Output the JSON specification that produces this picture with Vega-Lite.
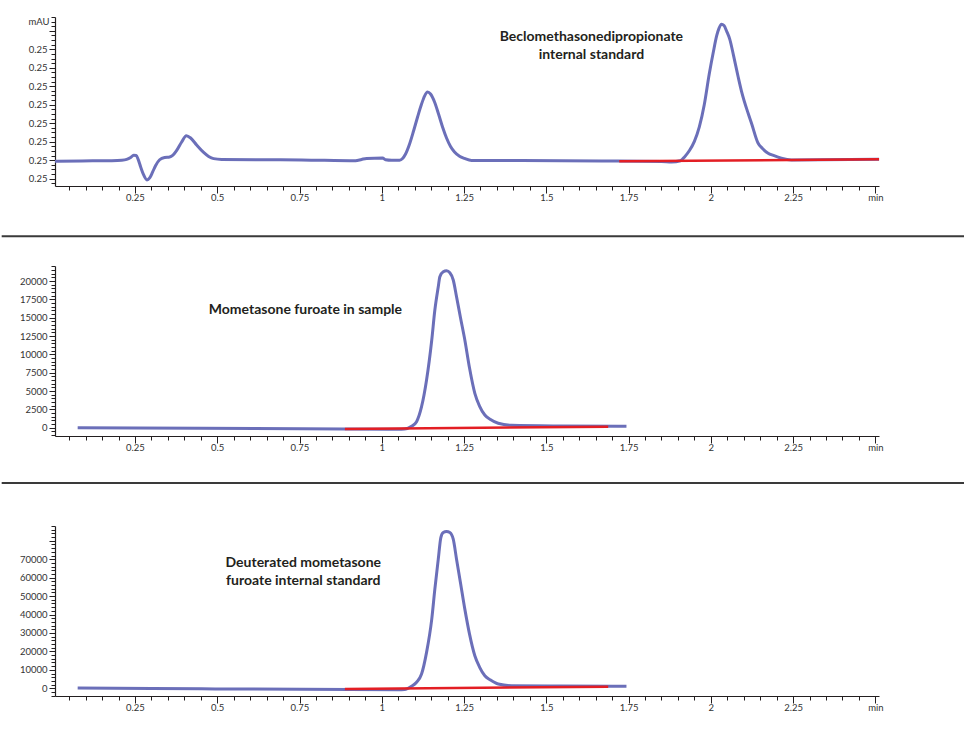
{
  "$schema": "https://vega.github.io/schema/vega-lite/v6.json",
  "padding": {"left": 0, "top": 12, "right": 0, "bottom": 0},
  "spacing": 0,
  "config": {
    "view": {"stroke": null},
    "axis": {"grid": false, "title": null, "domainColor": "#231f20", "tickColor": "#231f20", "domainWidth": 1.2, "tickWidth": 1, "labelColor": "#333333", "labelFont": "Lato", "labelFontSize": 9.5, "labelOverlap": false, "labelFlush": false, "labelBound": false}
  },
  "datasets": {
    "topTrace": [
      {"t":0.007,"v":0.246940},{"t":0.0881,"v":0.246957},{"t":0.1792,"v":0.246973},{"t":0.2096,"v":0.246995},{"t":0.2248,"v":0.247038},{"t":0.2369,"v":0.247146},{"t":0.2461,"v":0.247270},{"t":0.2536,"v":0.247254},{"t":0.2597,"v":0.247038},{"t":0.2673,"v":0.246632},{"t":0.2764,"v":0.246200},{"t":0.2865,"v":0.245930},{"t":0.2947,"v":0.246038},{"t":0.3038,"v":0.246362},{"t":0.3129,"v":0.246713},{"t":0.3250,"v":0.247022},{"t":0.3402,"v":0.247146},{"t":0.3554,"v":0.247173},{"t":0.3645,"v":0.247254},{"t":0.3767,"v":0.247524},{"t":0.3919,"v":0.247984},{"t":0.4061,"v":0.248324},{"t":0.4192,"v":0.248200},{"t":0.4374,"v":0.247821},{"t":0.4587,"v":0.247416},{"t":0.4739,"v":0.247200},{"t":0.4891,"v":0.247081},{"t":0.5134,"v":0.247038},{"t":0.6349,"v":0.247022},{"t":0.7564,"v":0.247011},{"t":0.9204,"v":0.246967},{"t":0.9387,"v":0.247038},{"t":0.9538,"v":0.247092},{"t":1.0024,"v":0.247119},{"t":1.0115,"v":0.247022},{"t":1.0298,"v":0.246995},{"t":1.0541,"v":0.247000},{"t":1.0632,"v":0.247092},{"t":1.0723,"v":0.247335},{"t":1.0845,"v":0.247876},{"t":1.0966,"v":0.248578},{"t":1.1088,"v":0.249335},{"t":1.1209,"v":0.250037},{"t":1.1300,"v":0.250470},{"t":1.1391,"v":0.250686},{"t":1.1482,"v":0.250578},{"t":1.1604,"v":0.250146},{"t":1.1725,"v":0.249497},{"t":1.1847,"v":0.248794},{"t":1.1968,"v":0.248200},{"t":1.2090,"v":0.247740},{"t":1.2211,"v":0.247443},{"t":1.2363,"v":0.247211},{"t":1.2515,"v":0.247092},{"t":1.2728,"v":0.246984},{"t":1.4247,"v":0.246978},{"t":1.6677,"v":0.246957},{"t":1.8499,"v":0.246930},{"t":1.8809,"v":0.246903},{"t":1.9077,"v":0.246967},{"t":1.9207,"v":0.247189},{"t":1.9350,"v":0.247520},{"t":1.9500,"v":0.248020},{"t":1.9650,"v":0.248800},{"t":1.9800,"v":0.250000},{"t":1.9950,"v":0.251650},{"t":2.0080,"v":0.252900},{"t":2.0180,"v":0.253750},{"t":2.0250,"v":0.254150},{"t":2.0322,"v":0.254361},{"t":2.0400,"v":0.254290},{"t":2.0480,"v":0.253980},{"t":2.0574,"v":0.253550},{"t":2.0687,"v":0.252686},{"t":2.0829,"v":0.251513},{"t":2.0930,"v":0.250740},{"t":2.1133,"v":0.249535},{"t":2.1233,"v":0.249011},{"t":2.1437,"v":0.247913},{"t":2.1568,"v":0.247632},{"t":2.1740,"v":0.247373},{"t":2.1901,"v":0.247254},{"t":2.2144,"v":0.247103},{"t":2.2448,"v":0.247011},{"t":2.5112,"v":0.247049}
    ],
    "topBase": [{"t":1.7215,"v":0.246940},{"t":2.5112,"v":0.247049}],
    "midTrace": [
      {"t":0.0759,"v":0},{"t":0.4526,"v":-68},{"t":0.7564,"v":-136},{"t":1.0501,"v":-218},{"t":1.0693,"v":-177},{"t":1.0905,"v":191},{"t":1.1057,"v":818},{"t":1.1209,"v":2863},{"t":1.1361,"v":6503},{"t":1.1519,"v":11956},{"t":1.1613,"v":16046},{"t":1.1717,"v":19223},{"t":1.1765,"v":20586},{"t":1.1868,"v":21267},{"t":1.1968,"v":21404},{"t":1.2069,"v":21131},{"t":1.2172,"v":20136},{"t":1.2272,"v":17859},{"t":1.2394,"v":14955},{"t":1.2524,"v":11956},{"t":1.2667,"v":8139},{"t":1.2828,"v":4690},{"t":1.2971,"v":2958},{"t":1.3132,"v":1731},{"t":1.3305,"v":1118},{"t":1.3539,"v":600},{"t":1.3943,"v":327},{"t":1.5462,"v":232},{"t":1.7436,"v":191}
    ],
    "midBase": [{"t":0.8879,"v":-177},{"t":1.6880,"v":136}],
    "botTrace": [
      {"t":0.0759,"v":162},{"t":0.4526,"v":-271},{"t":0.7564,"v":-541},{"t":1.0501,"v":-758},{"t":1.0693,"v":-650},{"t":1.0905,"v":1083},{"t":1.1057,"v":3248},{"t":1.1209,"v":7742},{"t":1.1361,"v":19490},{"t":1.1519,"v":37519},{"t":1.1613,"v":53761},{"t":1.1717,"v":70003},{"t":1.1795,"v":81751},{"t":1.1868,"v":84458},{"t":1.1968,"v":85000},{"t":1.2069,"v":84458},{"t":1.2172,"v":80831},{"t":1.2272,"v":70003},{"t":1.2394,"v":57009},{"t":1.2524,"v":42933},{"t":1.2667,"v":29398},{"t":1.2828,"v":17650},{"t":1.2971,"v":11532},{"t":1.3132,"v":6822},{"t":1.3305,"v":4494},{"t":1.3539,"v":2328},{"t":1.3943,"v":1408},{"t":1.5462,"v":1191},{"t":1.7436,"v":1083}
    ],
    "botBase": [{"t":0.8879,"v":-379},{"t":1.6880,"v":866}],
    "notes": [
      {"panel":"top","t":1.637,"v":0.25366,"text":"Beclomethasonedipropionate"},
      {"panel":"top","t":1.637,"v":0.252686,"text":"internal standard"},
      {"panel":"mid","t":0.768,"v":16050,"text":"Mometasone furoate in sample"},
      {"panel":"bot","t":0.7615,"v":67680,"text":"Deuterated mometasone"},
      {"panel":"bot","t":0.7615,"v":58260,"text":"furoate internal standard"}
    ],
    "separator": [{"line": "separator"}]
  },
  "vconcat": [
    {
      "width": 824, "height": 169,
      "encoding": {
        "x": {"field": "t", "type": "quantitative", "scale": {"domain": [0.007, 2.511], "nice": false, "zero": false},
          "axis": {"values": [0.05,0.1,0.15,0.2,0.25,0.3,0.35,0.4,0.45,0.5,0.55,0.6,0.65,0.7,0.75,0.8,0.85,0.9,0.95,1,1.05,1.1,1.15,1.2,1.25,1.3,1.35,1.4,1.45,1.5,1.55,1.6,1.65,1.7,1.75,1.8,1.85,1.9,1.95,2,2.05,2.1,2.15,2.2,2.25,2.3,2.35,2.4,2.45,2.5],
            "labelExpr": "datum.value > 2.49 ? 'min' : (round(datum.value*100) % 25 === 0 ? toString(round(datum.value*100)/100) : '')",
            "tickSize": {"condition": {"test": "round(datum.value*100) % 25 === 0", "value": 7}, "value": 4}, "labelPadding": -1}},
        "y": {"field": "v", "type": "quantitative", "scale": {"domain": [0.2456, 0.25475], "nice": false, "zero": false},
          "axis": {"values": [0.24575,0.246,0.24625,0.2465,0.24675,0.247,0.24725,0.2475,0.24775,0.248,0.24825,0.2485,0.24875,0.249,0.24925,0.2495,0.24975,0.25,0.25025,0.2505,0.25075,0.251,0.25125,0.2515,0.25175,0.252,0.25225,0.2525,0.25275,0.253,0.25325,0.2535,0.25375,0.254,0.25425,0.2545,0.25475],
            "labelExpr": "abs(datum.value - 0.2545) < 0.00001 ? 'mAU' : (round(datum.value*4000) % 4 === 0 && datum.value < 0.2535 ? format(datum.value, '.2f') : '')",
            "tickSize": {"condition": {"test": "round(datum.value*4000) % 4 === 0", "value": 6}, "value": 4}, "labelPadding": 2}}
      },
      "layer": [
        {"data": {"name": "topTrace"}, "mark": {"type": "line", "color": "#6b6fb9", "strokeWidth": 3, "interpolate": "monotone"}},
        {"data": {"name": "topBase"}, "mark": {"type": "line", "color": "#e31e24", "strokeWidth": 2.5}},
        {"data": {"name": "notes"}, "transform": [{"filter": "datum.panel === 'top'"}], "mark": {"type": "text", "font": "Lato", "fontWeight": "bold", "fontSize": 14, "color": "#231f20", "baseline": "middle"}, "encoding": {"text": {"field": "text"}}}
      ]
    },
    {
      "width": 824, "height": 59,
      "data": {"name": "separator"},
      "mark": {"type": "rule", "color": "#3a3a3a", "strokeWidth": 2},
      "encoding": {
        "x": {"datum": -0.0647, "type": "quantitative", "scale": {"domain": [0, 1], "nice": false, "zero": false}, "axis": null},
        "x2": {"datum": 1.1053},
        "y": {"datum": 0.42, "type": "quantitative", "scale": {"domain": [0, 1], "nice": false}, "axis": null}
      }
    },
    {
      "width": 824, "height": 170,
      "encoding": {
        "x": {"field": "t", "type": "quantitative", "scale": {"domain": [0.007, 2.511], "nice": false, "zero": false},
          "axis": {"values": [0.05,0.1,0.15,0.2,0.25,0.3,0.35,0.4,0.45,0.5,0.55,0.6,0.65,0.7,0.75,0.8,0.85,0.9,0.95,1,1.05,1.1,1.15,1.2,1.25,1.3,1.35,1.4,1.45,1.5,1.55,1.6,1.65,1.7,1.75,1.8,1.85,1.9,1.95,2,2.05,2.1,2.15,2.2,2.25,2.3,2.35,2.4,2.45,2.5],
            "labelExpr": "datum.value > 2.49 ? 'min' : (round(datum.value*100) % 25 === 0 ? toString(round(datum.value*100)/100) : '')",
            "tickSize": {"condition": {"test": "round(datum.value*100) % 25 === 0", "value": 7}, "value": 4}, "labelPadding": -1}},
        "y": {"field": "v", "type": "quantitative", "scale": {"domain": [-1130, 22045], "nice": false, "zero": false},
          "axis": {"values": [-1000,-500,0,500,1000,1500,2000,2500,3000,3500,4000,4500,5000,5500,6000,6500,7000,7500,8000,8500,9000,9500,10000,10500,11000,11500,12000,12500,13000,13500,14000,14500,15000,15500,16000,16500,17000,17500,18000,18500,19000,19500,20000,20500,21000,21500,22000],
            "labelExpr": "datum.value % 2500 === 0 ? toString(datum.value) : ''",
            "tickSize": {"condition": {"test": "datum.value % 2500 === 0", "value": 6}, "value": 4}, "labelPadding": 2}}
      },
      "layer": [
        {"data": {"name": "midTrace"}, "mark": {"type": "line", "color": "#6b6fb9", "strokeWidth": 3, "interpolate": "monotone"}},
        {"data": {"name": "midBase"}, "mark": {"type": "line", "color": "#e31e24", "strokeWidth": 2.5}},
        {"data": {"name": "notes"}, "transform": [{"filter": "datum.panel === 'mid'"}], "mark": {"type": "text", "font": "Lato", "fontWeight": "bold", "fontSize": 14, "color": "#231f20", "baseline": "middle"}, "encoding": {"text": {"field": "text"}}}
      ]
    },
    {
      "width": 824, "height": 69,
      "data": {"name": "separator"},
      "mark": {"type": "rule", "color": "#3a3a3a", "strokeWidth": 2},
      "encoding": {
        "x": {"datum": -0.0647, "type": "quantitative", "scale": {"domain": [0, 1], "nice": false, "zero": false}, "axis": null},
        "x2": {"datum": 1.1053},
        "y": {"datum": 0.551, "type": "quantitative", "scale": {"domain": [0, 1], "nice": false}, "axis": null}
      }
    },
    {
      "width": 824, "height": 170,
      "encoding": {
        "x": {"field": "t", "type": "quantitative", "scale": {"domain": [0.007, 2.511], "nice": false, "zero": false},
          "axis": {"values": [0.05,0.1,0.15,0.2,0.25,0.3,0.35,0.4,0.45,0.5,0.55,0.6,0.65,0.7,0.75,0.8,0.85,0.9,0.95,1,1.05,1.1,1.15,1.2,1.25,1.3,1.35,1.4,1.45,1.5,1.55,1.6,1.65,1.7,1.75,1.8,1.85,1.9,1.95,2,2.05,2.1,2.15,2.2,2.25,2.3,2.35,2.4,2.45,2.5],
            "labelExpr": "datum.value > 2.49 ? 'min' : (round(datum.value*100) % 25 === 0 ? toString(round(datum.value*100)/100) : '')",
            "tickSize": {"condition": {"test": "round(datum.value*100) % 25 === 0", "value": 7}, "value": 4}, "labelPadding": -1}},
        "y": {"field": "v", "type": "quantitative", "scale": {"domain": [-4170, 88000], "nice": false, "zero": false},
          "axis": {"values": [-4000,-2000,0,2000,4000,6000,8000,10000,12000,14000,16000,18000,20000,22000,24000,26000,28000,30000,32000,34000,36000,38000,40000,42000,44000,46000,48000,50000,52000,54000,56000,58000,60000,62000,64000,66000,68000,70000,72000,74000,76000,78000,80000,82000,84000,86000,88000],
            "labelExpr": "datum.value % 10000 === 0 && datum.value < 75000 ? toString(datum.value) : ''",
            "tickSize": {"condition": {"test": "datum.value % 10000 === 0", "value": 6}, "value": 4}, "labelPadding": 2}}
      },
      "layer": [
        {"data": {"name": "botTrace"}, "mark": {"type": "line", "color": "#6b6fb9", "strokeWidth": 3, "interpolate": "monotone"}},
        {"data": {"name": "botBase"}, "mark": {"type": "line", "color": "#e31e24", "strokeWidth": 2.5}},
        {"data": {"name": "notes"}, "transform": [{"filter": "datum.panel === 'bot'"}], "mark": {"type": "text", "font": "Lato", "fontWeight": "bold", "fontSize": 14, "color": "#231f20", "baseline": "middle"}, "encoding": {"text": {"field": "text"}}}
      ]
    }
  ]
}
